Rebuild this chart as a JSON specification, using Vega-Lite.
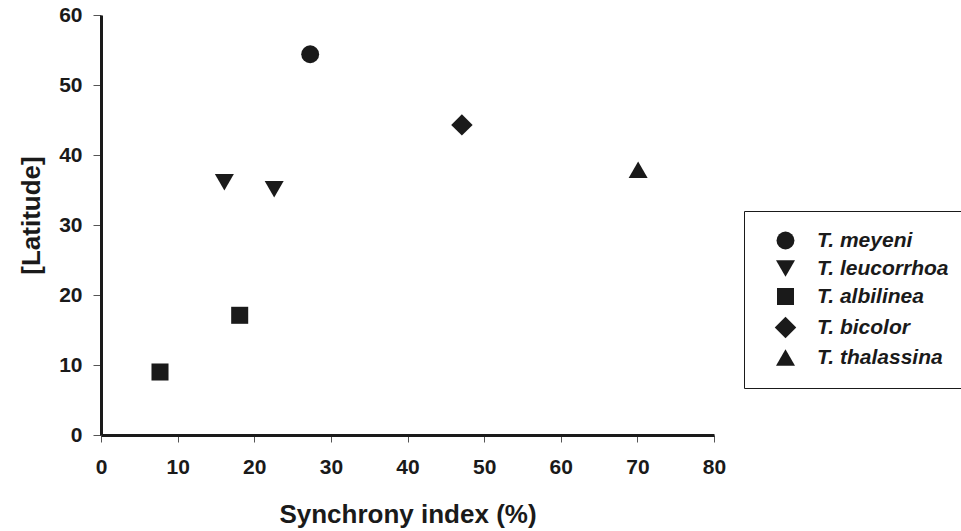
{
  "$schema": "https://vega.github.io/schema/vega-lite/v6.json",
  "autosize": "none",
  "width": 613,
  "height": 420,
  "padding": {"left": 101, "top": 15, "right": 247, "bottom": 96},
  "background": "white",
  "config": {"view": {"stroke": null}},
  "data": {
    "values": [
      {"species": "T. meyeni", "sync": 27.3, "lat": 54.4},
      {"species": "T. leucorrhoa", "sync": 16.1, "lat": 36.1},
      {"species": "T. leucorrhoa", "sync": 22.6, "lat": 35.1},
      {"species": "T. albilinea", "sync": 18.1, "lat": 17.1},
      {"species": "T. albilinea", "sync": 7.7, "lat": 9.0},
      {"species": "T. bicolor", "sync": 47.1, "lat": 44.3},
      {"species": "T. thalassina", "sync": 70.1, "lat": 37.9}
    ]
  },
  "mark": {"type": "point", "filled": true, "opacity": 1, "color": "#1a1a1a"},
  "encoding": {
    "x": {
      "field": "sync", "type": "quantitative",
      "scale": {"domain": [0, 80], "nice": false, "zero": true},
      "axis": {
        "title": "Synchrony index (%)", "values": [0,10,20,30,40,50,60,70,80],
        "grid": false, "domainColor": "#1a1a1a", "domainWidth": 3,
        "tickColor": "#555", "tickWidth": 1, "tickSize": 7,
        "labelFlush": false,
        "labelFont": "Liberation Sans", "labelFontWeight": "bold", "labelFontSize": 21, "labelColor": "#1a1a1a",
        "labelPadding": 14,
        "titleFont": "Liberation Sans", "titleFontWeight": "bold", "titleFontSize": 26, "titleColor": "#1a1a1a",
        "titlePadding": 24
      }
    },
    "y": {
      "field": "lat", "type": "quantitative",
      "scale": {"domain": [0, 60], "nice": false},
      "axis": {
        "title": "[Latitude]", "values": [0,10,20,30,40,50,60],
        "grid": false, "domainColor": "#1a1a1a", "domainWidth": 3,
        "tickColor": "#555", "tickWidth": 1, "tickSize": 8,
        "labelFlush": false,
        "labelFont": "Liberation Sans", "labelFontWeight": "bold", "labelFontSize": 21, "labelColor": "#1a1a1a",
        "labelPadding": 11,
        "titleFont": "Liberation Sans", "titleFontWeight": "bold", "titleFontSize": 26, "titleColor": "#1a1a1a",
        "titlePadding": 14,
        "titleY": 200
      }
    },
    "shape": {
      "field": "species", "type": "nominal",
      "scale": {
        "domain": ["T. meyeni", "T. leucorrhoa", "T. albilinea", "T. bicolor", "T. thalassina"],
        "range": ["circle", "triangle-down", "square", "diamond", "triangle-up"]
      },
      "legend": {
        "title": null,
        "orient": "none",
        "legendX": 643,
        "legendY": 196,
        "padding": 19,
        "strokeColor": "#1a1a1a",
        "symbolFillColor": "#1a1a1a",
        "symbolStrokeColor": "#1a1a1a",
        "symbolOffset": 11,
        "labelOffset": 20,
        "rowPadding": 4,
        "labelFont": "Liberation Sans",
        "labelFontWeight": "bold",
        "labelFontStyle": "italic",
        "labelFontSize": 21,
        "labelColor": "#1a1a1a",
        "labelLimit": 300,
        "encode": {"legend": {"update": {"strokeWidth": {"value": 1.5}}}}
      }
    },
    "size": {
      "field": "species", "type": "nominal",
      "scale": {
        "type": "ordinal",
        "domain": ["T. meyeni", "T. leucorrhoa", "T. albilinea", "T. bicolor", "T. thalassina"],
        "range": [320, 361, 290, 460, 361]
      },
      "legend": {
        "title": null,
        "orient": "none",
        "legendX": 643,
        "legendY": 196
      }
    }
  }
}
